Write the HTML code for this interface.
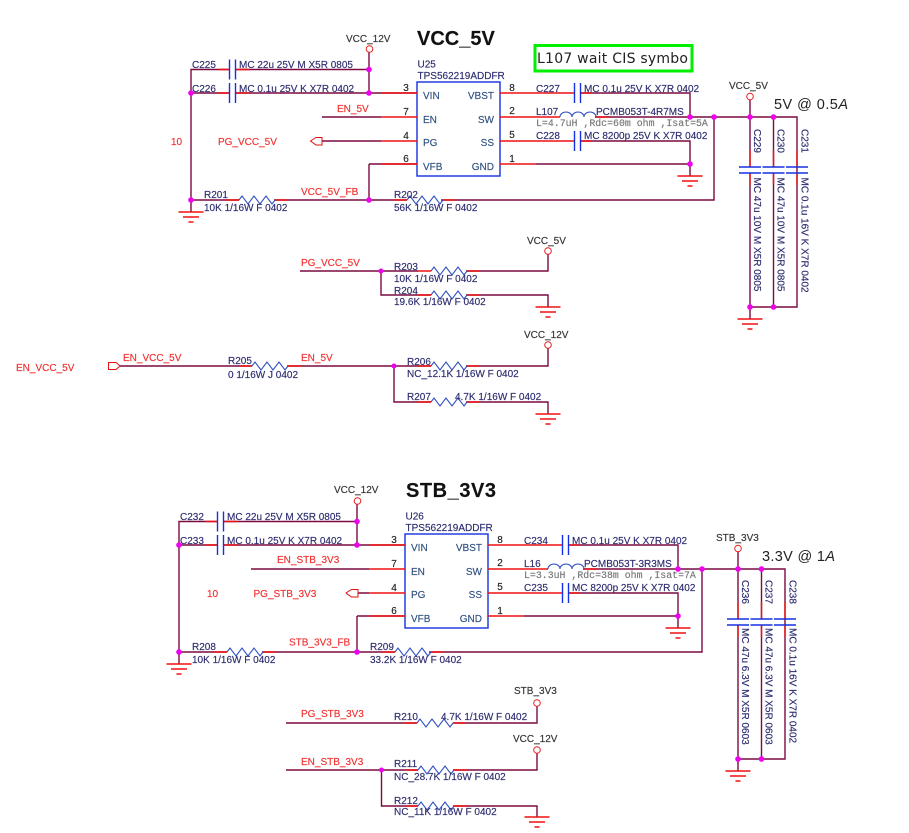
<!DOCTYPE html>
<html><head><meta charset="utf-8"><style>
html,body{margin:0;padding:0;background:#fff}
svg{display:block}
text{font-family:"Liberation Sans",sans-serif;font-size:10px;fill:#2c2c70;stroke:#2c2c70;stroke-width:.15}
.r{fill:#f23030;stroke:#f23030}.k{fill:#333;stroke:#333}.p{fill:#2f5080;stroke:#2f5080}.n{fill:#222;stroke:#222}
.e{text-anchor:end}.m{text-anchor:middle}
.t{font-weight:bold;font-size:20px;fill:#111;stroke:#111}
.l{font-family:"Liberation Mono",monospace;fill:#777;stroke:#777;font-size:9.9px}
.w{stroke:#7a0a40;fill:none;stroke-width:1.4}
.s{stroke:#ee1010;fill:none;stroke-width:1.4}
.b{stroke:#1530e0;fill:none;stroke-width:1.4}
.z{stroke:#3050c0;fill:none;stroke-width:1.1}
.o{stroke:#e82020;fill:#fff;stroke-width:1}
.j{fill:#f000f0}
</style></head><body>
<svg width="909" height="833" viewBox="0 0 909 833" xmlns="http://www.w3.org/2000/svg">
<defs>
<g id="g"><path class="s" d="M-12.5 0H12.5M-8 5H8M-2.500 10H2.500"/></g>
<g id="z"><path class="z" d="M0 0l3-4 6 8 6-8 6 8 6-8 6 8 3-4"/><path class="s" d="M-13 0H0M36 0H49"/></g>
<g id="cv"><path class="b" d="M-11 0H11M-11 6H11"/></g>
<g id="ch"><path class="b" d="M0-10V10M6-10V10"/></g>
<g id="block">
<rect x="417" y="82" width="83" height="94" fill="none" stroke="#1530e0" stroke-width="1.4"/>
<path class="w" d="M229 69.500H191V212M191 93H229M236 69.500H369M236 93H417M369 52V93M369 164V200M369 164H417M191 200H239M274 200H407M441 200H714V117M595 117H797V307H750M750 100V167M773.500 117V167M797 117V167M750 173V319M773.500 173V307M797 173V307M581 93H690V117M581 141H690V176M536 164H690"/>
<path class="s" d="M381 93H417M381 117H417M381 141H417M381 164H417M500 93H574M500 117H560M500 141H574M500 164H536M595 117H610M581 93H592M581 141H592M750 150V167M773.500 150V167M797 150V167M750 173V185M773.500 173V185M797 173V185M218 69.500H229M218 93H229M236 69.500H250M236 93H250"/>
<use href="#z" x="239" y="200"/><use href="#z" x="407" y="200"/>
<use href="#ch" x="229.500" y="69.500"/><use href="#ch" x="229.500" y="93"/><use href="#ch" x="574.500" y="93"/><use href="#ch" x="574.500" y="141"/>
<use href="#cv" x="750" y="167"/><use href="#cv" x="773.500" y="167"/><use href="#cv" x="797" y="167"/>
<path class="z" d="M560 117a6 5 0 0 1 12 0a6 5 0 0 1 12 0a6 5 0 0 1 12 0"/>
<use href="#g" x="191" y="212"/><use href="#g" x="690" y="176"/><use href="#g" x="750" y="319"/>
<circle class="o" cx="369.500" cy="49" r="3.300"/><circle class="o" cx="750" cy="96.500" r="3.300"/>
<g class="j"><circle cx="369" cy="69.500" r="2.800"/><circle cx="369" cy="93" r="2.800"/><circle cx="191" cy="93" r="2.800"/><circle cx="191" cy="200" r="2.800"/><circle cx="369" cy="200" r="2.800"/><circle cx="690" cy="117" r="2.800"/><circle cx="714" cy="117" r="2.800"/><circle cx="750" cy="117" r="2.800"/><circle cx="773.500" cy="117" r="2.800"/><circle cx="690" cy="164" r="2.800"/><circle cx="750" cy="307" r="2.800"/><circle cx="773.500" cy="307" r="2.800"/></g>
</g>
</defs>

<use href="#block"/>
<use href="#block" transform="translate(-12 452)"/>

<!-- top extras -->
<path class="w" d="M322 117H381M322 141H381"/>
<polygon points="310.500,141 316,137.500 322,137.500 322,145 316,145" fill="#fff" stroke="#e01010"/>
<rect x="535" y="45.500" width="157" height="25.500" fill="none" stroke="#00f000" stroke-width="3"/>

<path class="w" d="M300 271H418M466 271H548V254M381 271V295H431M466 295H548V307"/>
<use href="#z" x="431" y="271"/><use href="#z" x="431" y="295"/>
<use href="#g" x="548" y="307"/><circle class="o" cx="548" cy="251" r="3.300"/><circle class="j" cx="381" cy="271" r="2.500"/>

<polygon points="108.500,362.500 116,362.500 120,366 116,369.500 108.500,369.500" fill="#fff" stroke="#e01010"/>
<path class="w" d="M120 366H252M287 366H431M466 366H548V348M394 366V402H431M466 402H548V414"/>
<use href="#z" x="252" y="366"/><use href="#z" x="431" y="366"/><use href="#z" x="431" y="402"/>
<use href="#g" x="548" y="414"/><circle class="o" cx="548" cy="345" r="3.300"/><circle class="j" cx="394" cy="366" r="2.500"/>

<!-- bottom extras -->
<path class="w" d="M251 569H369M358 593H369"/>
<polygon points="346,593 351.500,589.500 358,589.500 358,597 351.500,597" fill="#fff" stroke="#e01010"/>

<path class="w" d="M286 723H417M453 723H537V706M286 770H418M453 770H537V753M381.500 770V806H418M453 806H537V817"/>
<use href="#z" x="417" y="723"/><use href="#z" x="418" y="770"/><use href="#z" x="418" y="806"/>
<use href="#g" x="537" y="817"/><circle class="o" cx="537" cy="703" r="3.300"/><circle class="o" cx="537" cy="750" r="3.300"/><circle class="j" cx="381.500" cy="770" r="2.500"/>

<!-- top text -->
<text class="t" x="417" y="45">VCC_5V</text>
<text x="537" y="63" style="font-family:'DejaVu Sans',sans-serif;font-size:14px;fill:#222;stroke:none" textLength="151" lengthAdjust="spacing">L107 wait CIS symbo</text>
<text x="774" y="109" style="font-size:14.500px;fill:#222;stroke:none" textLength="74">5V @ 0.5<tspan font-style="italic">A</tspan></text>
<text class="k" x="346" y="42">VCC_12V</text>
<text x="192" y="68">C225</text><text x="239" y="68">MC 22u 25V M X5R 0805</text>
<text x="192" y="92">C226</text><text x="239" y="92">MC 0.1u 25V K X7R 0402</text>
<text x="417.500" y="67.500">U25</text><text x="417.500" y="79">TPS562219ADDFR</text>
<text class="p" x="423" y="99">VIN</text><text class="p" x="423" y="123">EN</text><text class="p" x="423" y="146">PG</text><text class="p" x="423" y="170">VFB</text>
<text class="p e" x="494" y="99">VBST</text><text class="p e" x="494" y="123">SW</text><text class="p e" x="494" y="146">SS</text><text class="p e" x="494" y="170">GND</text>
<text class="n m" x="406" y="91">3</text><text class="n m" x="406" y="115">7</text><text class="n m" x="406" y="139">4</text><text class="n m" x="406" y="162">6</text><text class="n m" x="512" y="91">8</text><text class="n m" x="512" y="114">2</text><text class="n m" x="512" y="138">5</text><text class="n m" x="512" y="162">1</text>
<text class="r" x="337" y="112">EN_5V</text><text class="r" x="218" y="145">PG_VCC_5V</text><text class="r" x="171" y="145">10</text>
<text x="204" y="198">R201</text><text class="r" x="301" y="195">VCC_5V_FB</text><text x="394" y="198">R202</text>
<text x="204" y="211">10K 1/16W F 0402</text><text x="394" y="211">56K 1/16W F 0402</text>
<text x="536" y="92">C227</text><text x="584" y="92">MC 0.1u 25V K X7R 0402</text>
<text x="536" y="115">L107</text><text x="596" y="115">PCMB053T-4R7MS</text>
<text class="l" x="536" y="126">L=4.7uH ,Rdc=60m ohm ,Isat=5A</text>
<text x="536" y="139">C228</text><text x="584" y="139">MC 8200p 25V K X7R 0402</text>
<text class="k" x="729" y="89">VCC_5V</text>
<text transform="translate(754 129) rotate(90)">C229</text><text transform="translate(777.500 129) rotate(90)">C230</text><text transform="translate(801.500 129) rotate(90)">C231</text>
<text transform="translate(754 177.500) rotate(90)">MC 47u 10V M X5R 0805</text><text transform="translate(777.500 177.500) rotate(90)">MC 47u 10V M X5R 0805</text><text transform="translate(801.500 177.500) rotate(90)">MC 0.1u 16V K X7R 0402</text>
<text class="k" x="527" y="244">VCC_5V</text><text class="r" x="301" y="266">PG_VCC_5V</text>
<text x="394" y="270">R203</text><text x="394" y="282">10K 1/16W F 0402</text><text x="394" y="294">R204</text><text x="394" y="305">19.6K 1/16W F 0402</text>
<text class="k" x="524" y="338">VCC_12V</text>
<text class="r" x="16" y="371">EN_VCC_5V</text><text class="r" x="123" y="361">EN_VCC_5V</text><text x="228" y="364">R205</text><text x="228" y="378">0 1/16W J 0402</text><text class="r" x="301" y="361">EN_5V</text>
<text x="407" y="365">R206</text><text x="407" y="377">NC_12.1K 1/16W F 0402</text><text x="407" y="400">R207</text><text x="455" y="400">4.7K 1/16W F 0402</text>

<!-- bottom text -->
<text class="t" x="406" y="497" textLength="90">STB_3V3</text>
<text x="762" y="561" style="font-size:14.500px;fill:#222;stroke:none" textLength="73">3.3V @ 1<tspan font-style="italic">A</tspan></text>
<text class="k" x="334" y="493">VCC_12V</text>
<text x="180" y="520">C232</text><text x="227" y="520">MC 22u 25V M X5R 0805</text>
<text x="180" y="544">C233</text><text x="227" y="544">MC 0.1u 25V K X7R 0402</text>
<text x="405.500" y="519.500">U26</text><text x="405.500" y="531">TPS562219ADDFR</text>
<text class="p" x="411" y="551">VIN</text><text class="p" x="411" y="575">EN</text><text class="p" x="411" y="598">PG</text><text class="p" x="411" y="622">VFB</text>
<text class="p e" x="482" y="551">VBST</text><text class="p e" x="482" y="575">SW</text><text class="p e" x="482" y="598">SS</text><text class="p e" x="482" y="622">GND</text>
<text class="n m" x="394" y="543">3</text><text class="n m" x="394" y="567">7</text><text class="n m" x="394" y="591">4</text><text class="n m" x="394" y="614">6</text><text class="n m" x="500" y="543">8</text><text class="n m" x="500" y="566">2</text><text class="n m" x="500" y="590">5</text><text class="n m" x="500" y="614">1</text>
<text class="r" x="277" y="563">EN_STB_3V3</text><text class="r" x="253.500" y="597">PG_STB_3V3</text><text class="r" x="207" y="597">10</text>
<text x="192" y="650">R208</text><text class="r" x="289" y="645.500">STB_3V3_FB</text><text x="370" y="650">R209</text>
<text x="192" y="663">10K 1/16W F 0402</text><text x="370" y="663">33.2K 1/16W F 0402</text>
<text x="524" y="544">C234</text><text x="572" y="544">MC 0.1u 25V K X7R 0402</text>
<text x="524" y="567">L16</text><text x="584" y="567">PCMB053T-3R3MS</text>
<text class="l" x="524" y="578">L=3.3uH ,Rdc=38m ohm ,Isat=7A</text>
<text x="524" y="591">C235</text><text x="572" y="591">MC 8200p 25V K X7R 0402</text>
<text class="k" x="716" y="541">STB_3V3</text>
<text transform="translate(742 580) rotate(90)">C236</text><text transform="translate(765.500 580) rotate(90)">C237</text><text transform="translate(789.500 580) rotate(90)">C238</text>
<text transform="translate(742 628) rotate(90)">MC 47u 6.3V M X5R 0603</text><text transform="translate(765.500 628) rotate(90)">MC 47u 6.3V M X5R 0603</text><text transform="translate(789.500 628) rotate(90)">MC 0.1u 16V K X7R 0402</text>
<text class="r" x="301" y="717">PG_STB_3V3</text><text x="394" y="720">R210</text><text x="441" y="720">4.7K 1/16W F 0402</text>
<text class="k" x="514" y="694">STB_3V3</text><text class="k" x="513" y="742">VCC_12V</text>
<text class="r" x="301" y="765">EN_STB_3V3</text><text x="394" y="767">R211</text><text x="394" y="780">NC_28.7K 1/16W F 0402</text>
<text x="394" y="804">R212</text><text x="394" y="815">NC_11K 1/16W F 0402</text>
</svg>
</body></html>
